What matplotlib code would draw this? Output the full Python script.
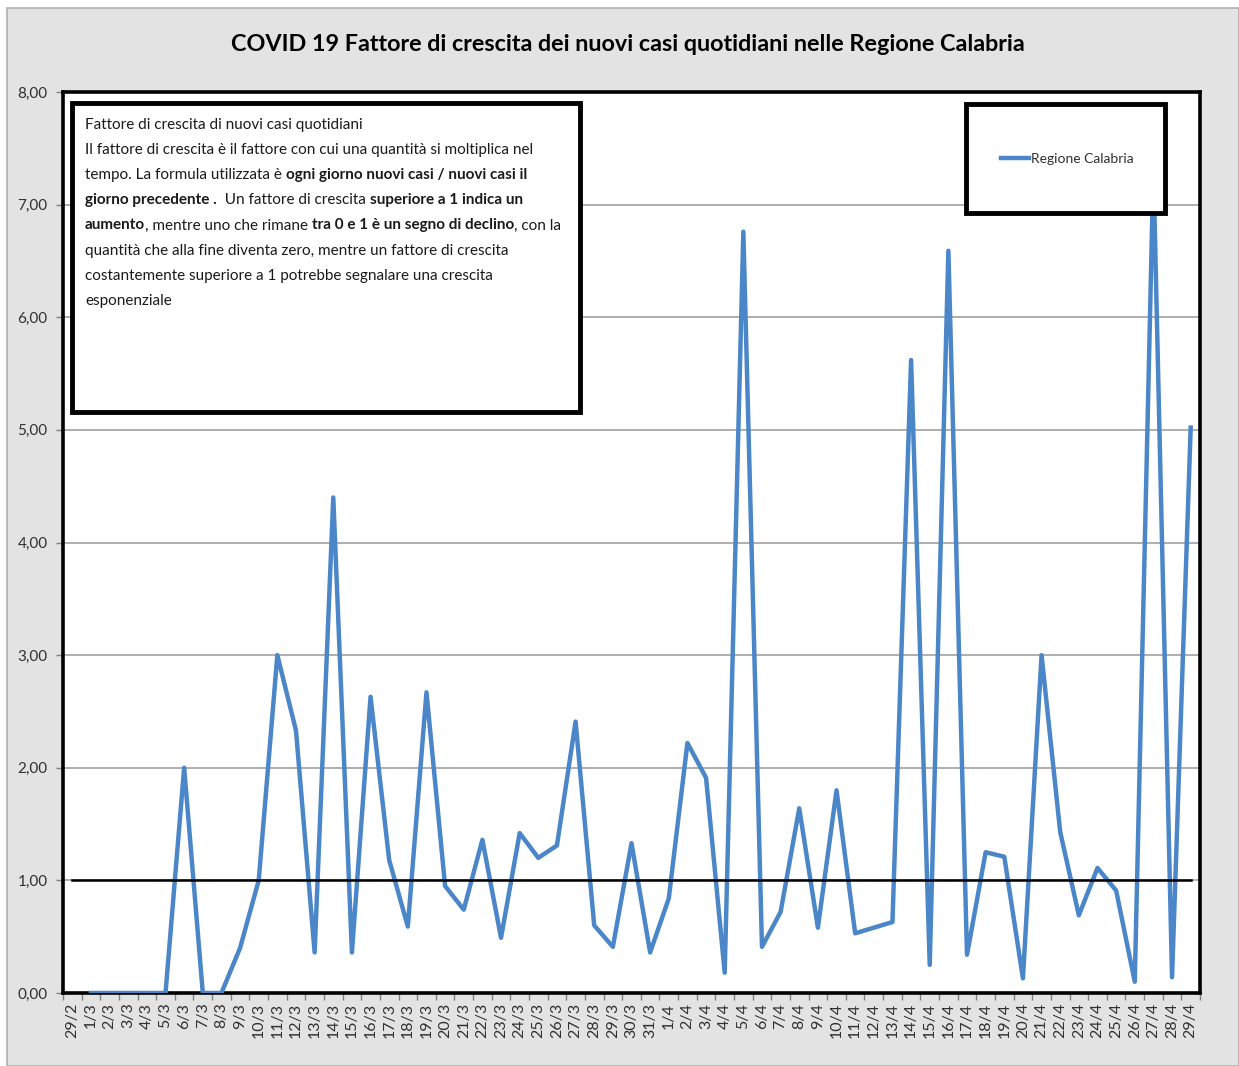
import matplotlib

matplotlib.use("Agg")
import matplotlib.pyplot as plt
import numpy as np
from matplotlib.patches import Rectangle
from matplotlib.ticker import FixedLocator, NullFormatter

W, H = 1239, 1066

# dates on the category axis, 29/2 .. 29/4
dates = ["29/2"] + [f"{d}/3" for d in range(1, 32)] + [f"{d}/4" for d in range(1, 30)]

# daily growth factor of new cases (29/2 has no value)
fattore = [
    np.nan,
    0.00, 0.00, 0.00, 0.00, 0.00, 2.00, 0.00, 0.00, 0.40, 1.00,
    3.00, 2.33, 0.36, 4.40, 0.36, 2.63, 1.18, 0.59, 2.67, 0.95,
    0.74, 1.36, 0.49, 1.42, 1.20, 1.31, 2.41, 0.60, 0.41, 1.33,
    0.36,
    0.84, 2.22, 1.91, 0.18, 6.76, 0.41, 0.72, 1.64, 0.58, 1.80,
    0.53, 0.58, 0.63, 5.62, 0.25, 6.59, 0.34, 1.25, 1.21, 0.13,
    3.00, 1.43, 0.69, 1.11, 0.91, 0.10, 7.33, 0.14, 5.02,
]
soglia = [1.0] * len(dates)

y_ticks = [0, 1, 2, 3, 4, 5, 6, 7, 8]
y_labels = ["0,00", "1,00", "2,00", "3,00", "4,00", "5,00", "6,00", "7,00", "8,00"]

title = "COVID 19 Fattore di crescita dei nuovi casi quotidiani nelle Regione Calabria"
# (text, bold) pieces per line of the note box
note_lines = [
    [("Fattore di crescita di nuovi casi quotidiani", False)],
    [("Il fattore di crescita è il fattore con cui una quantità si moltiplica nel", False)],
    [("tempo. La formula utilizzata è ", False), ("ogni giorno nuovi casi / nuovi casi il", True)],
    [("giorno precedente .", True), ("  Un fattore di crescita ", False), ("superiore a 1 indica un", True)],
    [("aumento", True), (", mentre uno che rimane ", False), ("tra 0 e 1 è un segno di declino", True), (", con la", False)],
    [("quantità che alla fine diventa zero, mentre un fattore di crescita", False)],
    [("costantemente superiore a 1 potrebbe segnalare una crescita", False)],
    [("esponenziale", False)],
]

plt.rcParams["font.family"] = ["Lato", "DejaVu Sans"]

BLUE = "#4a86c8"


def fx(px):
    return px / W


def fy(py):
    return 1 - py / H


fig = plt.figure(figsize=(W / 100, H / 100), dpi=100, facecolor="white")
# grey chart area behind everything
fig.patches.append(
    Rectangle((fx(7), 0), 1 - fx(7), fy(8), transform=fig.transFigure,
              facecolor="#e3e3e3", edgecolor="#b0b0b0", linewidth=1.2, zorder=-5)
)

ax = fig.add_axes([fx(63), fy(993), fx(1200) - fx(63), fy(92) - fy(993)])
ax.set_facecolor("white")

x = np.arange(len(dates))
ax.plot(x, fattore, color=BLUE, linewidth=3.2, solid_joinstyle="round",
        label="Regione Calabria", zorder=3)
ax.plot(x, soglia, color="black", linewidth=1.8, zorder=4)

ax.set_xlim(-0.5, len(dates) - 0.5)
ax.set_ylim(0, 8)
ax.set_yticks(y_ticks)
ax.set_yticklabels(y_labels)
ax.yaxis.grid(True, color="#a8a8a8", linewidth=1.3)
ax.set_axisbelow(True)

ax.set_xticks(x)
ax.set_xticklabels(dates, rotation=90)
ax.xaxis.set_minor_locator(FixedLocator(np.arange(-0.5, len(dates), 1)))
ax.xaxis.set_minor_formatter(NullFormatter())
ax.tick_params(axis="x", which="major", length=0, pad=7, labelsize=11.5, labelcolor="#303030")
ax.tick_params(axis="x", which="minor", length=5, width=1, color="#808080")
ax.tick_params(axis="y", length=5, width=1, color="#808080", pad=6, labelsize=11,
               labelcolor="#303030")
for s in ax.spines.values():
    s.set_color("black")
    s.set_linewidth(2.6)

fig.text(fx(628), fy(44), title, ha="center", va="center", fontsize=16.8,
         fontweight="bold", color="black")

# note box
ax.add_patch(Rectangle((fx(72), fy(412)), fx(580) - fx(72), fy(103) - fy(412),
                       transform=fig.transFigure, facecolor="white", edgecolor="black",
                       linewidth=3.5, zorder=6))
renderer = fig.canvas.get_renderer()
for i, pieces in enumerate(note_lines):
    xpos = fx(85)
    ypos = fy(125 + 25.1 * i)
    for txt, bold in pieces:
        t = fig.text(xpos, ypos, txt, ha="left", va="center", fontsize=11.0,
                     fontweight="bold" if bold else "normal", color="#1a1a1a", zorder=7)
        bb = t.get_window_extent(renderer=renderer)
        xpos = bb.x1 / W

# legend box
ax.add_patch(Rectangle((fx(966), fy(213)), fx(1165) - fx(966), fy(104) - fy(213),
                       transform=fig.transFigure, facecolor="white", edgecolor="black",
                       linewidth=3.5, zorder=6))
leg = ax.legend(loc="center", bbox_to_anchor=(fx(1067), fy(159)), bbox_transform=fig.transFigure,
                frameon=False, fontsize=10, handlelength=2.0, handletextpad=0.15)
leg.set_zorder(8)
for t in leg.get_texts():
    t.set_color("#303030")

fig.savefig("out.png", dpi=100, facecolor=fig.get_facecolor())
